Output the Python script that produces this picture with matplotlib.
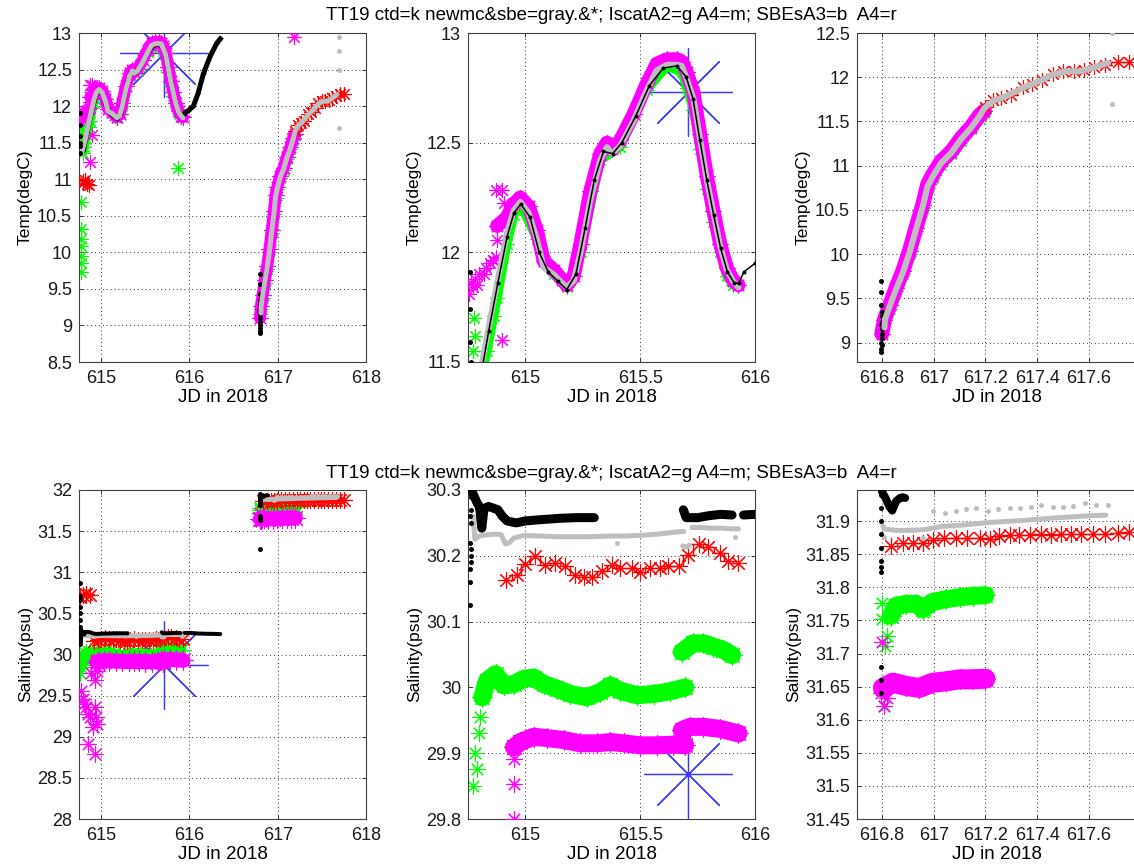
import numpy as np
import matplotlib
matplotlib.use('Agg')
import matplotlib.pyplot as plt
from matplotlib.ticker import FuncFormatter

plt.rcParams['font.family'] = ['Liberation Sans', 'DejaVu Sans']

TITLE = 'TT19 ctd=k newmc&sbe=gray.&*; IscatA2=g A4=m; SBEsA3=b  A4=r'

# ---------------- temperature data (degC) ----------------
# newmc gray
t_gray1_x = [614.777, 614.812, 614.862, 614.92, 614.949, 614.978, 615.014, 615.05, 615.08, 615.123,
             615.16, 615.18, 615.21, 615.24, 615.283, 615.326, 615.355, 615.377, 615.413, 615.471,
             615.529, 615.572, 615.616, 615.659, 615.681, 615.703, 615.732, 615.761, 615.79, 615.819,
             615.848, 615.877, 615.906, 615.928]
t_gray1_y = [11.34, 11.50, 11.78, 12.09, 12.19, 12.23, 12.18, 12.06, 11.93, 11.90,
             11.86, 11.84, 11.87, 12.00, 12.24, 12.42, 12.48, 12.45, 12.485, 12.60,
             12.74, 12.83, 12.855, 12.855, 12.85, 12.79, 12.70, 12.515, 12.33, 12.18,
             12.03, 11.92, 11.866, 11.84]
t_gray2_x = [616.81, 616.812, 616.83, 616.855, 616.881, 616.907, 616.932, 616.958, 616.977, 616.997,
             617.029, 617.068, 617.106, 617.145, 617.177, 617.196, 617.228, 617.28, 617.344, 617.408,
             617.46, 617.511, 617.563, 617.614, 617.672]
t_gray2_y = [9.17, 9.26, 9.41, 9.60, 9.79, 10.02, 10.28, 10.54, 10.77, 10.88,
             11.03, 11.145, 11.30, 11.43, 11.56, 11.65, 11.73, 11.785, 11.88, 11.955,
             12.03, 12.067, 12.067, 12.105, 12.16]
t_gray_out_x = [617.69, 617.69, 617.69, 617.69]
t_gray_out_y = [12.95, 12.75, 12.50, 11.70]

# ctd black
t_ctd1_x = [614.80, 614.84, 614.88, 614.92, 614.95, 614.98, 615.02, 615.06, 615.10, 615.14,
            615.18, 615.22, 615.26, 615.30, 615.34, 615.38, 615.42, 615.48, 615.54, 615.60,
            615.66, 615.70, 615.73, 615.76, 615.79, 615.82, 615.85, 615.88, 615.91, 615.93,
            615.951, 616.0, 616.045, 616.10, 616.16, 616.235, 616.31, 616.35]
t_ctd1_y = [11.40, 11.64, 11.86, 12.07, 12.18, 12.22, 12.16, 12.00, 11.91, 11.87,
            11.83, 11.90, 12.11, 12.33, 12.46, 12.45, 12.50, 12.62, 12.76, 12.84,
            12.85, 12.80, 12.70, 12.51, 12.33, 12.17, 12.02, 11.91, 11.86, 11.86,
            11.91, 11.95, 12.00, 12.18, 12.45, 12.68, 12.86, 12.92]
t_cast1_x = [614.76, 614.76, 614.76, 614.76, 614.76, 614.765]
t_cast1_y = [11.91, 11.74, 11.59, 11.45, 11.36, 11.50]
t_ctd2_x = [616.80, 616.82, 616.85, 616.88]
t_ctd2_y = [9.20, 9.35, 9.55, 9.78]
t_cast2_x = [616.796, 616.798, 616.80, 616.797, 616.80, 616.802, 616.799, 616.80, 616.803, 616.80,
             616.80, 616.798, 616.798, 616.798]
t_cast2_y = [8.89, 8.93, 8.97, 9.00, 9.05, 9.10, 9.15, 9.20, 9.25, 9.30,
             9.35, 9.43, 9.57, 9.70]

# IscatA4 magenta
t_mag1_x = [614.877, 614.92, 614.949, 614.978, 615.014, 615.05, 615.08, 615.123, 615.16, 615.18,
            615.21, 615.24, 615.283, 615.326, 615.355, 615.377, 615.413, 615.471, 615.529, 615.572,
            615.616, 615.659, 615.681, 615.703, 615.732, 615.761, 615.79, 615.819, 615.848, 615.877,
            615.906, 615.928]
t_mag1_y = [12.12, 12.16, 12.22, 12.25, 12.21, 12.10, 11.96, 11.92, 11.875, 11.85,
            11.89, 12.04, 12.28, 12.45, 12.50, 12.47, 12.51, 12.63, 12.77, 12.86,
            12.88, 12.88, 12.87, 12.82, 12.73, 12.54, 12.35, 12.19, 12.04, 11.93,
            11.87, 11.85]
t_mag2_x = [616.80, 616.81, 616.83, 616.855, 616.881, 616.907, 616.932, 616.958, 616.977, 616.997,
            617.029, 617.068, 617.106, 617.145, 617.177, 617.196]
t_mag2_y = [9.10, 9.26, 9.42, 9.62, 9.81, 10.04, 10.30, 10.56, 10.79, 10.90,
            11.05, 11.16, 11.31, 11.44, 11.57, 11.62]
t_mag_out_x = [614.754, 614.762, 614.77, 614.78, 614.79, 614.80, 614.819, 614.83, 614.845, 614.86,
               614.87, 614.877, 614.87, 614.90, 614.905, 614.899, 614.871, 617.18]
t_mag_out_y = [11.81, 11.86, 11.84, 11.88, 11.85, 11.90, 11.90, 11.93, 11.95, 11.965,
               11.98, 12.056, 12.285, 12.285, 12.225, 11.60, 11.24, 12.95]

# IscatA2 green
t_grn1_x = [614.795, 614.812, 614.833, 614.862, 614.877, 614.92, 614.95, 614.978, 615.05, 615.123,
            615.18, 615.24, 615.326, 615.413, 615.529, 615.616, 615.681, 615.703, 615.732, 615.761,
            615.79, 615.819, 615.848, 615.877, 615.906]
t_grn1_y = [11.36, 11.44, 11.55, 11.71, 11.79, 12.04, 12.17, 12.22, 12.06, 11.90,
            11.84, 12.00, 12.42, 12.48, 12.74, 12.85, 12.82, 12.75, 12.65, 12.47,
            12.29, 12.14, 12.00, 11.89, 11.85]
t_grn2_x = [616.80, 616.81, 616.83, 616.855, 616.881, 616.907, 616.932, 616.958, 616.977, 616.997,
            617.029, 617.068, 617.106, 617.145, 617.177, 617.196]
t_grn2_y = [9.15, 9.22, 9.38, 9.58, 9.77, 10.00, 10.26, 10.52, 10.75, 10.86,
            11.01, 11.13, 11.28, 11.41, 11.53, 11.60]
t_grn_out_x = [614.777, 614.777, 614.777, 614.777, 614.777, 614.777, 614.777, 615.875,
               614.77, 614.775, 614.78]
t_grn_out_y = [10.69, 10.32, 10.18, 10.09, 9.95, 9.86, 9.73, 11.16,
               11.55, 11.70, 11.62]

# SBEsA4 red
t_red_x = [617.20, 617.228, 617.26, 617.30, 617.344, 617.38, 617.42, 617.46, 617.50, 617.54,
           617.58, 617.62, 617.66, 617.71, 617.755]
t_red_y = [11.66, 11.74, 11.77, 11.80, 11.89, 11.92, 11.97, 12.04, 12.07, 12.07,
           12.08, 12.11, 12.14, 12.17, 12.17]
t_red_out_x = [614.79, 614.80, 614.82, 614.84, 614.86]
t_red_out_y = [10.97, 10.95, 10.99, 10.93, 10.92]

# SBEsA3 blue
t_blue_x = [615.71]
t_blue_y = [12.73]

# ---------------- salinity data (psu) ----------------
s_cast1_x = [614.757] * 13 + [614.765] * 6
s_cast1_y = [30.87, 30.71, 30.66, 30.58, 30.50, 30.42, 30.34, 30.30, 30.26, 30.22, 30.18, 30.16, 30.125,
             30.29, 30.27, 30.25, 30.21, 30.19, 30.20]
s_ctd1_x = [614.77, 614.79, 614.80, 614.81, 614.82, 614.84, 614.88, 614.90, 614.92, 614.96,
            615.00, 615.07, 615.15, 615.22, 615.30]
s_ctd1_y = [30.296, 30.28, 30.275, 30.242, 30.272, 30.275, 30.27, 30.26, 30.253, 30.25,
            30.253, 30.255, 30.257, 30.258, 30.258]
s_ctd2_x = [615.688, 615.70, 615.75, 615.80, 615.85, 615.90]
s_ctd2_y = [30.27, 30.258, 30.258, 30.261, 30.263, 30.262]
s_ctd3_x = [615.95, 616.00, 616.10, 616.20, 616.30, 616.35]
s_ctd3_y = [30.262, 30.263, 30.255, 30.252, 30.25, 30.248]
s_cast2_x = [616.795] * 13
s_cast2_y = [31.28, 31.64, 31.66, 31.68, 31.823, 31.83, 31.84, 31.86, 31.88, 31.90, 31.92, 31.94, 31.949]
s_ctd4_x = [616.80, 616.815, 616.83, 616.84, 616.855, 616.87, 616.88, 616.89]
s_ctd4_y = [31.945, 31.934, 31.921, 31.916, 31.93, 31.935, 31.936, 31.935]

s_gray1_x = [614.772, 614.78, 614.80, 614.833, 614.87, 614.895, 614.913, 614.93, 614.95, 614.993,
             615.07, 615.14, 615.22, 615.29, 615.36, 615.43, 615.50, 615.58, 615.65, 615.69]
s_gray1_y = [30.26, 30.225, 30.23, 30.232, 30.233, 30.232, 30.218, 30.22, 30.227, 30.231,
             30.23, 30.229, 30.229, 30.229, 30.23, 30.23, 30.231, 30.233, 30.236, 30.237]
s_gray2_x = [615.685, 615.70, 615.715]
s_gray2_y = [30.215, 30.213, 30.216]
s_gray3_x = [615.725, 615.76, 615.80, 615.85, 615.90, 615.928]
s_gray3_y = [30.243, 30.243, 30.242, 30.242, 30.241, 30.241]
s_gray4_x = [616.804, 616.81, 616.855, 616.906, 616.958, 617.034, 617.11, 617.215, 617.344, 617.473,
             617.60, 617.665]
s_gray4_y = [31.893, 31.888, 31.886, 31.886, 31.887, 31.892, 31.894, 31.898, 31.901, 31.905,
             31.908, 31.909]
s_sbe_x = [615.40, 615.913, 616.81, 616.96, 616.997, 617.042, 617.087, 617.126, 617.164, 617.209,
           617.248, 617.293, 617.332, 617.377, 617.415, 617.46, 617.499, 617.538, 617.583, 617.628,
           617.673]
s_sbe_y = [30.22, 30.228, 31.876, 31.874, 31.915, 31.912, 31.915, 31.918, 31.92, 31.915,
           31.918, 31.92, 31.92, 31.922, 31.924, 31.922, 31.922, 31.923, 31.927, 31.924,
           31.924]

s_red1_x = [614.917, 614.964, 615.0, 615.043, 615.087, 615.13, 615.171, 615.217, 615.254, 615.29,
            615.333, 615.377, 615.413, 615.464, 615.5, 615.543, 615.587, 615.623, 615.667, 615.71,
            615.754, 615.797, 615.848, 615.884, 615.928]
s_red1_y = [30.163, 30.171, 30.188, 30.199, 30.186, 30.189, 30.184, 30.171, 30.168, 30.168,
            30.177, 30.186, 30.181, 30.181, 30.176, 30.181, 30.181, 30.185, 30.184, 30.201,
            30.218, 30.213, 30.204, 30.192, 30.189]
s_red2_x = [616.836, 616.88, 616.92, 616.958, 616.997, 617.04, 617.087, 617.13, 617.177, 617.216,
            617.254, 617.293, 617.33, 617.37, 617.415, 617.454, 617.49, 617.53, 617.57, 617.615,
            617.66, 617.71, 617.756]
s_red2_y = [31.862, 31.867, 31.867, 31.867, 31.872, 31.874, 31.874, 31.875, 31.875, 31.873,
            31.878, 31.879, 31.879, 31.879, 31.881, 31.879, 31.881, 31.881, 31.881, 31.881,
            31.881, 31.882, 31.883]
s_red_out_x = [614.765, 614.79, 614.83, 614.87]
s_red_out_y = [30.70, 30.72, 30.73, 30.72]

s_grn1_x = [614.812, 614.833, 614.87, 614.906, 614.949, 614.993, 615.036,
            615.08, 615.138, 615.196, 615.268, 615.326, 615.37, 615.413, 615.486, 615.558, 615.63,
            615.696]
s_grn1_y = [29.985, 30.01, 30.02, 30.003, 30.005, 30.013, 30.015,
            30.005, 29.998, 29.99, 29.985, 29.993, 30.003, 29.995, 29.988, 29.99, 29.994,
            30.0]
s_grn2_x = [615.681, 615.732, 615.775, 615.819, 615.862, 615.90]
s_grn2_y = [30.054, 30.067, 30.067, 30.062, 30.057, 30.049]
s_grn3_x = [616.836, 616.855, 616.894, 616.932, 616.958, 616.997, 617.048, 617.10, 617.15, 617.20]
s_grn3_y = [31.757, 31.772, 31.775, 31.775, 31.767, 31.778, 31.782, 31.785, 31.787, 31.788]
s_grn_out_x = [614.79, 614.797, 614.804, 614.757, 614.77, 614.78, 616.80, 616.80, 616.814, 616.82,
               616.808, 616.96]
s_grn_out_y = [29.876, 29.93, 29.955, 29.78, 29.85, 29.90, 31.777, 31.752, 31.712, 31.727,
               31.62, 31.762]

s_mag1_x = [614.95, 614.978, 615.036, 615.094, 615.167, 615.239, 615.312, 615.37, 615.428, 615.5,
            615.572, 615.645, 615.696]
s_mag1_y = [29.909, 29.917, 29.925, 29.923, 29.92, 29.915, 29.915, 29.917, 29.915, 29.912,
            29.912, 29.913, 29.912]
s_mag2_x = [615.681, 615.717, 615.775, 615.848, 615.928]
s_mag2_y = [29.935, 29.94, 29.94, 29.937, 29.93]
s_mag3_x = [616.804, 616.842, 616.894, 616.945, 616.997, 617.048, 617.10, 617.15, 617.20]
s_mag3_y = [31.648, 31.656, 31.651, 31.648, 31.656, 31.658, 31.661, 31.661, 31.662]
s_mag_out_x = [614.949, 614.949, 614.95, 614.777, 614.795, 614.81, 614.83, 614.85, 614.87,
               614.93, 614.947, 614.91, 614.852, 614.93, 614.89, 614.93, 614.95,
               616.80, 616.81, 616.795, 616.82]
s_mag_out_y = [29.80, 29.853, 29.891, 29.56, 29.46, 29.40, 29.36, 29.28, 29.24,
               29.36, 29.24, 29.12, 28.91, 28.79, 29.77, 29.69, 29.16,
               31.717, 31.62, 31.641, 31.633]

s_blue_x = [615.71]
s_blue_y = [29.869]

STAR = (8, 2, 0)
GRAY = '#bebebe'
MAG = '#ff00ff'
GRN = '#00ff00'
RED = '#ff0000'
BLUE = '#3a3aff'
PX = 0.72  # points per pixel at dpi 100


def band(ax, x, y, color, lw, ms, z):
    ax.plot(x, y, '-', color=color, lw=lw * PX, solid_capstyle='round', zorder=z)
    ax.plot(x, y, ls='none', marker=STAR, ms=ms * PX, mew=0.8, color=color, zorder=z)


def stars(ax, x, y, color, ms, z):
    ax.plot(x, y, ls='none', marker=STAR, ms=ms * PX, mew=0.8, color=color, zorder=z)


def blue_star(ax, x, y):
    ax.plot(x, y, ls='none', marker=STAR, ms=88 * PX, mew=0.9, color=BLUE, zorder=1)
    ax.plot(x, y, ls='none', marker='.', ms=4, color=BLUE, zorder=1)


def dots(ax, x, y, color, ms, z):
    ax.plot(x, y, ls='none', marker='o', ms=ms * PX, mew=0, color=color, zorder=z)


def draw_temp(ax, st):
    blue_star(ax, t_blue_x, t_blue_y)
    band(ax, t_grn1_x, t_grn1_y, GRN, st['grn'], 14, 2)
    band(ax, t_grn2_x, t_grn2_y, GRN, st['grn'], 14, 2)
    stars(ax, t_grn_out_x, t_grn_out_y, GRN, 14, 2)
    band(ax, t_mag1_x, t_mag1_y, MAG, st['band'], 16, 3)
    band(ax, t_mag2_x, t_mag2_y, MAG, st['band'], 16, 3)
    stars(ax, t_mag_out_x, t_mag_out_y, MAG, 15, 3)
    ax.plot(t_red_x, t_red_y, '-', color=RED, lw=1, drawstyle='steps-mid', zorder=4)
    stars(ax, t_red_x, t_red_y, RED, 15, 4)
    stars(ax, t_red_out_x, t_red_out_y, RED, 15, 4)
    bz = st['blackz']
    ax.plot(t_ctd1_x, t_ctd1_y, '-', color='k', lw=st['black'] * PX, zorder=bz)
    dots(ax, t_ctd1_x, t_ctd1_y, 'k', 4, bz)
    ax.plot(t_ctd2_x, t_ctd2_y, '-', color='k', lw=st['black'] * PX, zorder=bz)
    dots(ax, t_cast1_x, t_cast1_y, 'k', 5, 7)
    dots(ax, t_cast2_x, t_cast2_y, 'k', 5, 5)
    ax.plot(t_gray1_x, t_gray1_y, '-', color=GRAY, lw=st['gray'] * PX, solid_capstyle='round', zorder=6)
    ax.plot(t_gray2_x, t_gray2_y, '-', color=GRAY, lw=st['gray'] * PX, solid_capstyle='round', zorder=6)
    dots(ax, t_gray_out_x, t_gray_out_y, GRAY, 5, 6)


def draw_sal(ax, st):
    blue_star(ax, s_blue_x, s_blue_y)
    band(ax, s_grn1_x, s_grn1_y, GRN, st['grn'], 20, 2)
    band(ax, s_grn2_x, s_grn2_y, GRN, st['grn'], 20, 2)
    band(ax, s_grn3_x, s_grn3_y, GRN, st['grn'], 20, 2)
    stars(ax, s_grn_out_x, s_grn_out_y, GRN, 16, 2)
    band(ax, s_mag1_x, s_mag1_y, MAG, st['mag'], 20, 3)
    band(ax, s_mag2_x, s_mag2_y, MAG, st['mag'], 20, 3)
    band(ax, s_mag3_x, s_mag3_y, MAG, st['mag'], 20, 3)
    stars(ax, s_mag_out_x, s_mag_out_y, MAG, 16, 3)
    for xs, ys in [(s_red1_x, s_red1_y), (s_red2_x, s_red2_y)]:
        ax.plot(xs, ys, '-', color=RED, lw=1, drawstyle='steps-mid', zorder=4)
        stars(ax, xs, ys, RED, 17, 4)
        dots(ax, xs, ys, RED, 3, 4)
    stars(ax, s_red_out_x, s_red_out_y, RED, 17, 4)
    for xs, ys in [(s_gray1_x, s_gray1_y), (s_gray2_x, s_gray2_y),
                   (s_gray3_x, s_gray3_y), (s_gray4_x, s_gray4_y)]:
        ax.plot(xs, ys, '-', color=GRAY, lw=st['gray'] * PX, solid_capstyle='round', zorder=5)
    dots(ax, s_sbe_x, s_sbe_y, GRAY, 5, 5)
    for xs, ys in [(s_ctd1_x, s_ctd1_y), (s_ctd2_x, s_ctd2_y),
                   (s_ctd3_x, s_ctd3_y), (s_ctd4_x, s_ctd4_y)]:
        ax.plot(xs, ys, '-', color='k', lw=st['black'] * PX, solid_capstyle='round', zorder=6)
    dots(ax, s_cast1_x, s_cast1_y, 'k', 5, 6)
    dots(ax, s_cast2_x, s_cast2_y, 'k', 5, 6)


def style_axes(ax, xlim, ylim, xticks, yticks, ylabel):
    ax.set_xlim(xlim)
    ax.set_ylim(ylim)
    ax.set_xticks(xticks)
    ax.set_yticks(yticks)
    fmt = FuncFormatter(lambda v, p: '%g' % round(v, 4))
    ax.xaxis.set_major_formatter(fmt)
    ax.yaxis.set_major_formatter(fmt)
    ax.grid(True, color='#303030', lw=0.7, linestyle=(0, (1, 3)))
    ax.set_axisbelow(True)
    ax.tick_params(direction='in', length=3, width=0.6, top=True, right=True,
                   labelsize=13, pad=5, colors='#1a1a1a')
    ax.tick_params(axis='x', pad=6)
    for sp in ax.spines.values():
        sp.set_color('#404040')
        sp.set_linewidth(0.8)
    ax.set_xlabel('JD in 2018', fontsize=13.5, labelpad=1)
    ax.set_ylabel(ylabel, fontsize=12.5, labelpad=3)


W, H = 1134, 865
fig = plt.figure(figsize=(W / 100, H / 100), dpi=100)


def make_ax(left, top, width, height):
    return fig.add_axes([left / W, 1 - (top + height) / H, width / W, height / H])


lefts = [79, 468, 857]
widths = [287, 287, 280]

temp_cfg = [
    ((614.75, 618), (8.5, 13), np.arange(615, 618.01, 1), np.arange(8.5, 13.01, 0.5),
     {'band': 12, 'grn': 8, 'gray': 5, 'black': 5, 'blackz': 5}),
    ((614.75, 616.0), (11.5, 13), np.arange(615, 616.01, 0.5), np.arange(11.5, 13.01, 0.5),
     {'band': 14, 'grn': 9, 'gray': 6, 'black': 1.5, 'blackz': 7}),
    ((616.704, 617.785), (8.78, 12.5), np.arange(616.8, 617.61, 0.2), np.arange(9, 12.51, 0.5),
     {'band': 15, 'grn': 10, 'gray': 6, 'black': 5, 'blackz': 5}),
]
sal_cfg = [
    ((614.75, 618), (28, 32), np.arange(615, 618.01, 1), np.arange(28, 32.01, 0.5),
     {'grn': 12, 'mag': 15, 'gray': 5, 'black': 4}),
    ((614.75, 616.0), (29.8, 30.3), np.arange(615, 616.01, 0.5), np.arange(29.8, 30.31, 0.1),
     {'grn': 18, 'mag': 18, 'gray': 5, 'black': 9}),
    ((616.704, 617.785), (31.45, 31.947), np.arange(616.8, 617.61, 0.2), np.arange(31.45, 31.91, 0.05),
     {'grn': 18, 'mag': 20, 'gray': 5, 'black': 8}),
]

for i, (xl, yl, xt, yt, st) in enumerate(temp_cfg):
    ax = make_ax(lefts[i], 33, widths[i], 329)
    draw_temp(ax, st)
    style_axes(ax, xl, yl, xt, yt, 'Temp(degC)')
    if i == 1:
        ax.set_title(TITLE, fontsize=13.5, pad=9)

for i, (xl, yl, xt, yt, st) in enumerate(sal_cfg):
    ax = make_ax(lefts[i], 490, widths[i], 329)
    draw_sal(ax, st)
    style_axes(ax, xl, yl, xt, yt, 'Salinity(psu)')
    if i == 1:
        ax.set_title(TITLE, fontsize=13.5, pad=9)

fig.savefig('out.png', dpi=100)
